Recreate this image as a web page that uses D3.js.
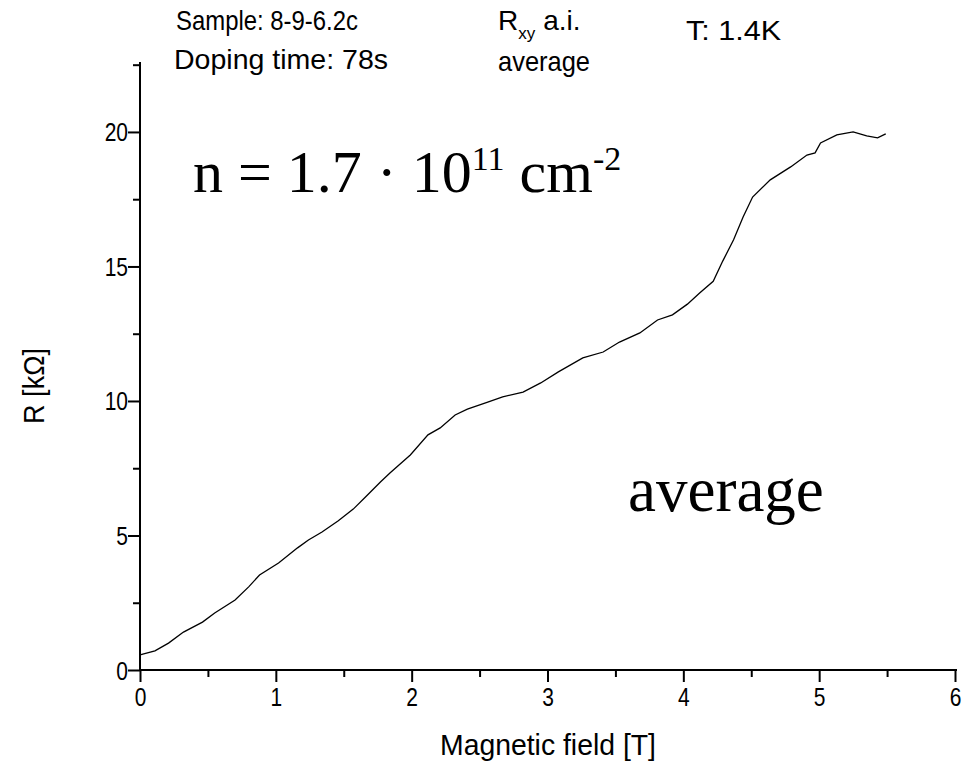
<!DOCTYPE html>
<html><head><meta charset="utf-8">
<script src="https://cdn.jsdelivr.net/npm/d3@7"></script>
<style>
body{margin:0;background:#fff}
svg text{font-family:"Liberation Sans",Arial,Helvetica,sans-serif;fill:#000}
svg text.serif{font-family:"Liberation Serif","Times New Roman",serif}
</style>
</head><body>
<svg id="c" width="969" height="762"></svg>
<script>
// Data
const fieldT = [0, 0.11, 0.21, 0.32, 0.46, 0.55, 0.70, 0.80, 0.88, 1.02, 1.16, 1.24, 1.34, 1.46, 1.57, 1.66, 1.77, 1.84, 1.99, 2.12, 2.21, 2.32, 2.41, 2.56, 2.67, 2.82, 2.95, 3.08, 3.26, 3.41, 3.53, 3.68, 3.81, 3.92, 4.03, 4.12, 4.22, 4.29, 4.37, 4.44, 4.51, 4.64, 4.79, 4.91, 4.97, 5.01, 5.13, 5.25, 5.35, 5.43, 5.49];
const resistance = [0.56, 0.71, 1.0, 1.41, 1.78, 2.12, 2.60, 3.09, 3.53, 3.98, 4.54, 4.83, 5.13, 5.55, 5.98, 6.43, 6.99, 7.32, 7.99, 8.74, 9.0, 9.48, 9.70, 9.96, 10.15, 10.33, 10.67, 11.08, 11.6, 11.82, 12.19, 12.53, 13.01, 13.2, 13.6, 14.01, 14.45, 15.2, 15.99, 16.84, 17.58, 18.22, 18.7, 19.14, 19.22, 19.59, 19.89, 20.0, 19.85, 19.78, 19.93];
const xMajorTicks = [0, 1, 2, 3, 4, 5, 6];
const xMinorTicks = [0.5, 1.5, 2.5, 3.5, 4.5, 5.5];
const yMajorTicks = [0, 5, 10, 15, 20];
const yMinorTicks = [2.5, 7.5, 12.5, 17.5, 22.5];
const xTitle = "Magnetic field [T]";
const yTitle = "R [kΩ]";

const svg = d3.select("#c");
const x = d3.scaleLinear().domain([0, 6]).range([140, 955]);
const y = d3.scaleLinear().domain([0, 22.6]).range([670, 62]);
const TICK_FS = 25, SX = 0.84;

function styleLines(g) {
  g.attr("font-size", null).attr("font-family", null);
  g.select(".domain").attr("stroke", "#000").attr("stroke-width", 2);
  g.selectAll(".tick line").attr("stroke", "#000").attr("stroke-width", 2);
}

// x axis
const gx = svg.append("g").attr("transform", `translate(0,${y(0)})`)
  .call(d3.axisBottom(x).tickValues(xMajorTicks).tickSize(12).tickSizeOuter(0).tickFormat(d3.format("d")));
gx.select(".domain").attr("d", `M${x(0)},0H${x(6) + 2}`);
styleLines(gx);
gx.selectAll(".tick text").remove();
gx.selectAll(".tick").append("text")
  .attr("transform", `translate(0,36) scale(${SX},1)`)
  .attr("text-anchor", "middle").attr("font-size", TICK_FS)
  .text(d => d3.format("d")(d));
svg.append("g").attr("transform", `translate(0,${y(0)})`)
  .call(d3.axisBottom(x).tickValues(xMinorTicks).tickSize(7).tickFormat(""))
  .call(g => { g.select(".domain").remove(); g.selectAll("line").attr("stroke", "#000").attr("stroke-width", 2); });

// y axis
const gy = svg.append("g").attr("transform", `translate(${x(0)},0)`)
  .call(d3.axisLeft(y).tickValues(yMajorTicks).tickSize(12).tickSizeOuter(0).tickFormat(d3.format("d")));
gy.select(".domain").attr("d", `M0,${y(0) + 1}V${y(22.6)}`);
styleLines(gy);
gy.selectAll(".tick text").remove();
gy.selectAll(".tick").append("text")
  .attr("transform", `translate(-12,9) scale(${SX},1)`)
  .attr("text-anchor", "end").attr("font-size", TICK_FS)
  .text(d => d3.format("d")(d));
svg.append("g").attr("transform", `translate(${x(0)},0)`)
  .call(d3.axisLeft(y).tickValues(yMinorTicks).tickSize(7).tickFormat(""))
  .call(g => { g.select(".domain").remove(); g.selectAll("line").attr("stroke", "#000").attr("stroke-width", 2); });

// curve
const pts = fieldT.map((f, i) => [f, resistance[i]]);
svg.append("path").datum(pts)
  .attr("fill", "none").attr("stroke", "#000").attr("stroke-width", 1.3)
  .attr("d", d3.line().x(d => x(d[0])).y(d => y(d[1])));

// axis titles
svg.append("text").attr("x", 548).attr("y", 755).attr("text-anchor", "middle")
  .attr("font-size", 29).attr("textLength", 216).attr("lengthAdjust", "spacingAndGlyphs").text(xTitle);
svg.append("text").attr("transform", "translate(44,386) rotate(-90)").attr("text-anchor", "middle")
  .attr("font-size", 29).attr("textLength", 76).attr("lengthAdjust", "spacingAndGlyphs").text(yTitle);

// header texts
function hdr(txt, x0, yb, w) {
  svg.append("text").attr("x", x0).attr("y", yb).attr("font-size", 28)
    .attr("textLength", w).attr("lengthAdjust", "spacingAndGlyphs").text(txt);
}
hdr("Sample: 8-9-6.2c", 176, 30, 182);
hdr("Doping time: 78s", 174, 69, 214);
hdr("T: 1.4K", 686, 40, 95);
hdr("average", 498, 71, 92);
const rxy = svg.append("text").attr("x", 498).attr("y", 30).attr("font-size", 28);
rxy.append("tspan").text("R");
rxy.append("tspan").attr("font-size", 17).attr("dy", 9).attr("dx", 0).text("xy");
rxy.append("tspan").attr("dy", -9).attr("dx", 8).text("a.i.");

// big annotations
const n = svg.append("text").attr("class", "serif").attr("x", 193).attr("y", 192).attr("font-size", 60);
n.append("tspan").text("n = 1.7 · 10");
n.append("tspan").attr("font-size", 34).attr("dy", -22).text("11");
n.append("tspan").attr("dy", 22).text(" cm");
n.append("tspan").attr("font-size", 34).attr("dy", -22).text("-2");

svg.append("text").attr("class", "serif").attr("x", 628).attr("y", 511).attr("font-size", 63).text("average");
</script>
</body></html>
